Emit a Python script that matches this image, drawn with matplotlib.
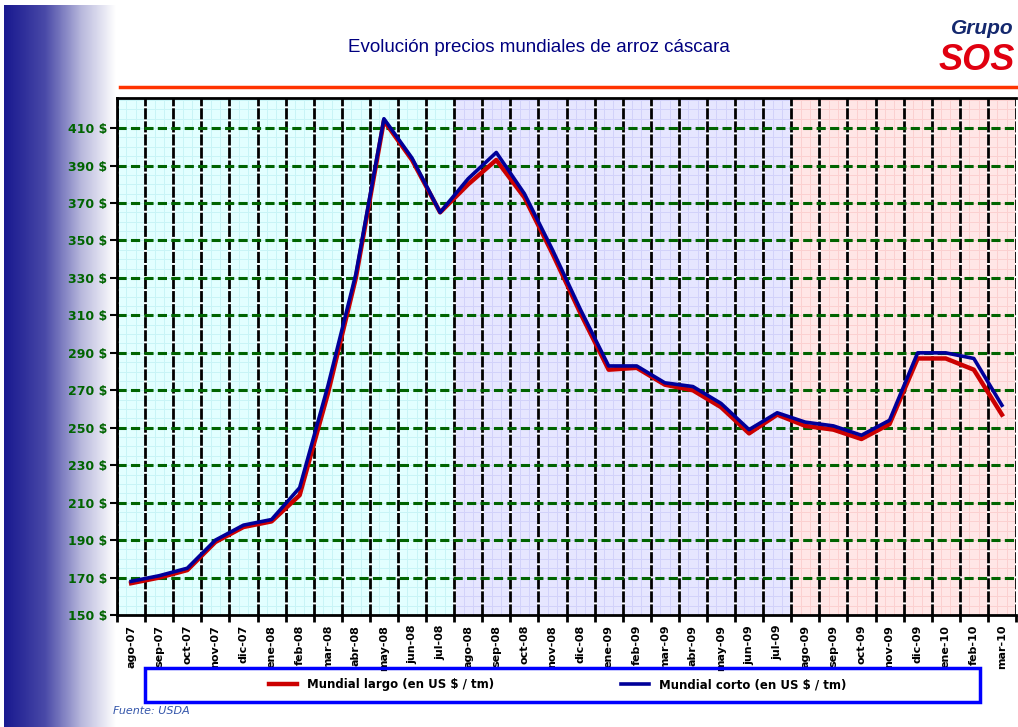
import matplotlib
matplotlib.use("Agg")
import matplotlib.pyplot as plt
import numpy as np
from matplotlib.patches import Rectangle
from matplotlib.lines import Line2D

# Datos (USD / tm)
meses = ['ago-07', 'sep-07', 'oct-07', 'nov-07', 'dic-07', 'ene-08', 'feb-08', 'mar-08',
         'abr-08', 'may-08', 'jun-08', 'jul-08', 'ago-08', 'sep-08', 'oct-08', 'nov-08',
         'dic-08', 'ene-09', 'feb-09', 'mar-09', 'abr-09', 'may-09', 'jun-09', 'jul-09',
         'ago-09', 'sep-09', 'oct-09', 'nov-09', 'dic-09', 'ene-10', 'feb-10', 'mar-10']
largo = [167, 170, 174, 189, 197, 200, 214, 268, 330, 414, 393, 365, 380, 393, 373, 343,
         311, 281, 282, 273, 270, 261, 247, 257, 251, 249, 244, 252, 287, 287, 281, 257]
corto = [168, 171, 175, 190, 198, 201, 218, 272, 332, 415, 394, 365, 383, 397, 375, 345,
         313, 283, 283, 274, 272, 263, 249, 258, 253, 251, 246, 254, 290, 290, 287, 262]
yticks = list(range(150, 411, 20))

NARROW = ['Liberation Sans Narrow', 'Liberation Sans', 'DejaVu Sans']

fig = plt.figure(figsize=(10.18, 7.27), dpi=100)

# franja degradada a la izquierda
gax = fig.add_axes([0.004, 0, 0.11, 0.993])
grad = np.linspace(0, 1, 256) ** 1.1
gax.imshow(grad[np.newaxis, :], aspect='auto', cmap=matplotlib.colors.LinearSegmentedColormap.from_list(
    'g', ['#1a1a90', '#4a4aa8', '#b8b8dc', '#ffffff']), extent=[0, 1, 0, 1])
gax.axis('off')

ax = fig.add_axes([0.115, 0.154, 0.883, 0.711])
x = np.arange(len(meses))

# fondos por campana
ax.axvspan(-0.5, 11.5, color='#e2ffff', zorder=0)
ax.axvspan(11.5, 23.5, color='#e6e6ff', zorder=0)
ax.axvspan(23.5, 31.5, color='#ffe6e6', zorder=0)
# cuadricula fina
tramos = [(-0.5, 11.5, '#c8f4f6'), (11.5, 23.5, '#d2d2fa'), (23.5, 31.5, '#fbd0d0')]
for a, b, c in tramos:
    for xs in np.arange(a, b, 1 / 3):
        ax.axvline(xs, color=c, lw=0.7, zorder=0.5)
    for ys in np.arange(150, 430, 5):
        ax.plot([a, b], [ys, ys], color=c, lw=0.7, zorder=0.5)

# lineas verticales negras y horizontales verdes
for xs in np.arange(-0.5, 31.6, 1):
    ax.axvline(xs, color='white', lw=2, zorder=0.9)
    ax.axvline(xs, color='black', lw=2, ls=(0, (4, 0.7)), zorder=1)
for ys in yticks[1:]:
    ax.axhline(ys, color='#006400', lw=2.2, ls=(0, (3, 1.4)), zorder=1.5)

ax.plot(x, largo, color='#cc0000', lw=3.2, zorder=3, label='Mundial largo (en US $ / tm)')
ax.plot(x, corto, color='#000099', lw=2.6, zorder=4, label='Mundial corto (en US $ / tm)')

ax.set_xlim(-0.5, 31.5)
ax.set_ylim(150, 426)
ax.set_yticks(yticks)
ax.set_yticklabels([f'{v} $' for v in yticks], color='#006400', fontweight='bold', fontsize=9)
ax.set_xticks(np.arange(-0.5, 31.6, 1))
ax.set_xticklabels([])
ax.set_xticks(x, minor=True)
ax.set_xticklabels(meses, minor=True, rotation=90, fontsize=8, fontweight='bold')
ax.tick_params(axis='x', which='minor', length=0, pad=7)
ax.tick_params(axis='x', which='major', length=5, width=2)
ax.tick_params(axis='y', length=5, width=1.5, pad=2)
for s in ['left', 'bottom', 'top']:
    ax.spines[s].set_linewidth(2)
ax.spines['right'].set_visible(False)

# leyenda
fig.add_artist(Rectangle((145 / 1018, 1 - 702 / 727), 835 / 1018, 34 / 727,
                         transform=fig.transFigure, fill=False, ec='#0000ff', lw=2.5))
leg = ax.legend(loc='center', bbox_to_anchor=(0.49, -0.135), ncol=2, frameon=False,
                prop={'weight': 'bold', 'size': 8.5}, handlelength=2.4, columnspacing=10.8)

fig.text(0.111, 1 - 711 / 727, 'Fuente: USDA', fontsize=8, style='italic', color='#3355aa',
         va='center')

fig.text(539 / 1018, 1 - 48 / 727, 'Evolución precios mundiales de arroz cáscara',
         ha='center', va='center', fontsize=13.5, color='#000080', family=NARROW)
fig.add_artist(Line2D([120 / 1018, 1], [1 - 87 / 727, 1 - 87 / 727], color='#ff3300', lw=2.5))

fig.text(1014 / 1018, 1 - 28 / 727, 'Grupo', ha='right', va='center', fontsize=15,
         fontweight='bold', style='italic', color='#14286e', family=NARROW)
fig.text(1015 / 1018, 1 - 61 / 727, 'SOS', ha='right', va='center', fontsize=26,
         fontweight='bold', style='italic', color='#e00010', family=NARROW)

fig.savefig('out.png', dpi=100)
